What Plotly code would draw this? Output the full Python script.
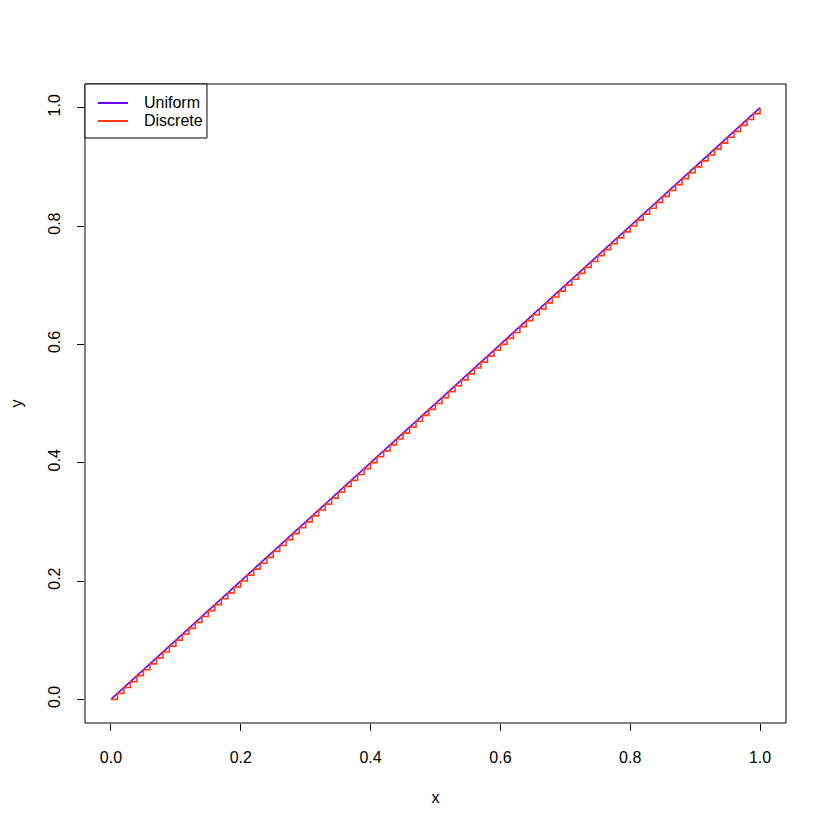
import plotly.graph_objects as go

# Uniform CDF on [0, 1]
uniform_x = [0.0, 1.0]
uniform_y = [0.0, 1.0]

# Discrete CDF: steps at 0.00, 0.01, ..., 1.00
discrete_x = [
    0.00, 0.01, 0.02, 0.03, 0.04, 0.05, 0.06, 0.07, 0.08, 0.09,
    0.10, 0.11, 0.12, 0.13, 0.14, 0.15, 0.16, 0.17, 0.18, 0.19,
    0.20, 0.21, 0.22, 0.23, 0.24, 0.25, 0.26, 0.27, 0.28, 0.29,
    0.30, 0.31, 0.32, 0.33, 0.34, 0.35, 0.36, 0.37, 0.38, 0.39,
    0.40, 0.41, 0.42, 0.43, 0.44, 0.45, 0.46, 0.47, 0.48, 0.49,
    0.50, 0.51, 0.52, 0.53, 0.54, 0.55, 0.56, 0.57, 0.58, 0.59,
    0.60, 0.61, 0.62, 0.63, 0.64, 0.65, 0.66, 0.67, 0.68, 0.69,
    0.70, 0.71, 0.72, 0.73, 0.74, 0.75, 0.76, 0.77, 0.78, 0.79,
    0.80, 0.81, 0.82, 0.83, 0.84, 0.85, 0.86, 0.87, 0.88, 0.89,
    0.90, 0.91, 0.92, 0.93, 0.94, 0.95, 0.96, 0.97, 0.98, 0.99,
    1.00,
]
discrete_y = list(discrete_x)

tick_vals = [0.0, 0.2, 0.4, 0.6, 0.8, 1.0]
tick_text = ["0.0", "0.2", "0.4", "0.6", "0.8", "1.0"]

legend_names = ["Uniform", "Discrete"]
colors = ["#6a00ff", "#ff3a10"]

FONT = "Liberation Sans, Arial, sans-serif"

fig = go.Figure()
fig.add_trace(go.Scatter(
    x=uniform_x, y=uniform_y, mode="lines", name=legend_names[0],
    line=dict(color=colors[0], width=1.6), showlegend=False,
))
fig.add_trace(go.Scatter(
    x=discrete_x, y=discrete_y, mode="lines", name=legend_names[1],
    line=dict(color=colors[1], width=1.6, shape="hv"), showlegend=False,
))

axis_common = dict(
    tickmode="array", tickvals=tick_vals, ticktext=tick_text,
    ticks="outside", ticklen=7, tickcolor="black", tickwidth=1,
    showgrid=False, zeroline=False, showline=False, automargin=False,
    tickfont=dict(family=FONT, size=16, color="black"),
)

fig.update_xaxes(range=[-0.04, 1.04], ticklabelstandoff=13,
                 title=dict(text="x", font=dict(family=FONT, size=16, color="black"), standoff=26),
                 **axis_common)
fig.update_yaxes(range=[-0.04, 1.04], tickangle=-90, ticklabelstandoff=11,
                 title=dict(text="y", font=dict(family=FONT, size=16, color="black"), standoff=25),
                 **axis_common)

# manual R-style legend box (top-left corner of the plot area)
shapes = [
    dict(type="rect", xref="paper", yref="paper", x0=0, x1=1, y0=0, y1=1,
         line=dict(color="black", width=1)),
    dict(type="rect", xref="paper", yref="paper", x0=0, x1=0.174, y0=0.9155, y1=1,
         line=dict(color="black", width=1), fillcolor="white"),
]
annotations = []
for i, (name, col) in enumerate(zip(legend_names, colors)):
    yy = 0.9703 - i * 0.0282
    shapes.append(dict(type="line", xref="paper", yref="paper", x0=0.0185, x1=0.0613,
                       y0=yy, y1=yy, line=dict(color=col, width=2)))
    annotations.append(dict(xref="paper", yref="paper", x=0.0813, y=yy, text=name,
                            showarrow=False, xanchor="left", yanchor="middle",
                            font=dict(family=FONT, size=16, color="black")))

fig.update_layout(
    width=830, height=830,
    margin=dict(l=77, r=52, t=76, b=115),
    paper_bgcolor="white", plot_bgcolor="white",
    font=dict(family=FONT, size=16, color="black"),
    showlegend=False,
    shapes=shapes,
    annotations=annotations,
)

fig.write_html("out.html")
